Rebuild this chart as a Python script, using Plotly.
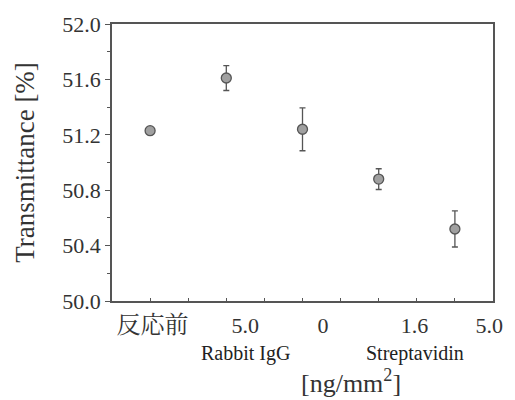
import plotly.graph_objects as go

# Measurement steps (plotted at evenly spaced slots)
step_pos = [0.5, 1.5, 2.5, 3.5, 4.5]
transmittance = [51.23, 51.61, 51.24, 50.88, 50.52]
err = [0.01, 0.09, 0.155, 0.075, 0.13]

# Concentration tick labels under the axis
tick_pos = [0.53, 1.75, 2.77, 3.97, 4.95]
tick_text = ['<span style="font-size:24px">反応前</span>', "5.0", "0", "1.6", "5.0"]

# Group labels below the concentration ticks
group_pos = [1.75, 3.97]
group_text = ["Rabbit IgG", "Streptavidin"]

SERIF = "Times New Roman, Liberation Serif, Noto Serif CJK JP, Noto Sans CJK JP, serif"
INK = "#333333"
AXIS = "#555555"

fig = go.Figure()
fig.add_trace(go.Scatter(
    x=step_pos, y=transmittance, mode="markers",
    marker=dict(size=10, color="#a0a0a0", line=dict(color="#555555", width=1.3)),
    error_y=dict(type="data", array=err, visible=True, color="#555555",
                 thickness=1.3, width=3),
    showlegend=False,
))

for xp, txt in zip(group_pos, group_text):
    fig.add_annotation(x=xp, xref="x", y=-0.188, yref="paper", yanchor="middle",
                       text=txt, showarrow=False,
                       font=dict(family=SERIF, size=20, color="#222222"))
fig.add_annotation(x=0.628, xref="paper", y=-0.354, yref="paper", yanchor="bottom",
                   text="[ng/mm<sup>2</sup>]", showarrow=False, borderpad=0,
                   font=dict(family=SERIF, size=26, color=INK))

fig.update_layout(
    width=515, height=400,
    margin=dict(l=112, r=16, t=23, b=99),
    paper_bgcolor="white", plot_bgcolor="white",
    font=dict(family=SERIF, color=INK),
    xaxis=dict(
        range=[0, 5], tickmode="array", tickvals=tick_pos, ticktext=tick_text,
        ticks="outside", ticklen=4, tickcolor="rgba(0,0,0,0)",
        tickfont=dict(family=SERIF, size=22, color=INK),
        showgrid=False, zeroline=False,
        showline=True, linecolor=AXIS, linewidth=1.5, mirror=True,
        minor=dict(tickmode="array", tickvals=[0.5, 1, 1.5, 2, 2.5, 3, 3.5, 4, 4.5],
                   ticks="inside", ticklen=3, tickcolor=AXIS),
    ),
    yaxis=dict(
        range=[50, 52], dtick=0.4, tick0=50, tickformat=".1f",
        ticks="outside", ticklen=5, tickcolor=AXIS,
        tickfont=dict(family=SERIF, size=22, color=INK),
        title=dict(text="Transmittance [%]", font=dict(family=SERIF, size=27, color=INK),
                   standoff=20),
        showgrid=False, zeroline=False,
        showline=True, linecolor=AXIS, linewidth=1.5, mirror=True,
        minor=dict(dtick=0.2, ticks="outside", ticklen=3, tickcolor=AXIS),
    ),
)

fig.write_html("out.html")
